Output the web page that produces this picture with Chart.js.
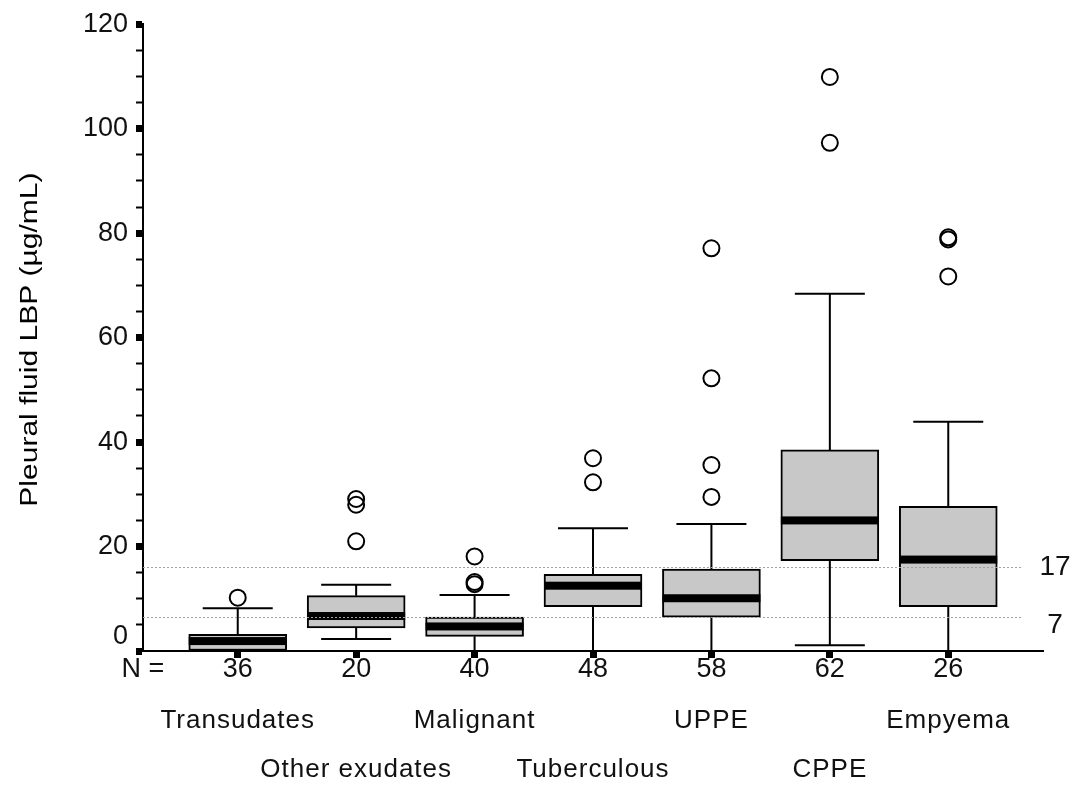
<!DOCTYPE html>
<html>
<head>
<meta charset="utf-8">
<script src="https://cdn.jsdelivr.net/npm/chart.js@4.4.1/dist/chart.umd.min.js"></script>
<style>
    html, body { margin: 0; padding: 0; background: #fff; }
</style>
</head>
<body>
<canvas id="myChart" width="1079" height="790"></canvas>
<script>
// groups and sample sizes
const categories = ['Transudates', 'Other exudates', 'Malignant', 'Tuberculous', 'UPPE', 'CPPE', 'Empyema'];
const nValues = [36, 20, 40, 48, 58, 62, 26];

// box plot values (µg/mL)
const whiskerLow = [0, 2.3, 0, 0, 0, 1.1, 0];
const q1 = [0, 4.4, 2.8, 8.5, 6.5, 17.3, 8.5];
const median = [1.9, 6.7, 4.7, 12.5, 10.1, 25.0, 17.5];
const q3 = [3.2, 10.6, 6.5, 14.7, 15.7, 38.5, 27.7];
const whiskerHigh = [8.2, 12.7, 10.7, 23.5, 24.3, 68.4, 43.9];
const outliers = [
    [10.2],
    [29.1, 28.0, 21.0],
    [18.1, 13.2, 12.8],
    [36.9, 32.3],
    [77.1, 52.2, 35.6, 29.5],
    [109.9, 97.3],
    [79.2, 78.8, 71.7]
];

// dotted cut-off lines
const cutoffValues = [16.1, 6.5];
const cutoffLabels = ['17', '7'];

const yTickLabels = [20, 40, 60, 80, 100, 120];
const yTitle = 'Pleural fluid LBP (µg/mL)';

const FONT = "'Liberation Sans', Arial, sans-serif";

const boxData = categories.map((c, i) => ({ x: i + 1, y: [q1[i], q3[i]] }));
const outlierData = [];
outliers.forEach((list, i) => list.forEach(v => outlierData.push({ x: i + 1, y: v })));

const boxParts = {
    id: 'boxParts',
    beforeDatasetsDraw(chart) {
        const ctx = chart.ctx;
        const xs = chart.scales.x, ys = chart.scales.y;
        ctx.save();
        ctx.strokeStyle = '#000';
        ctx.lineWidth = 2;
        categories.forEach((c, i) => {
            const x = xs.getPixelForValue(i + 1);
            const capHalf = 35;
            // upper whisker
            ctx.beginPath();
            ctx.moveTo(x, ys.getPixelForValue(q3[i]));
            ctx.lineTo(x, ys.getPixelForValue(whiskerHigh[i]));
            ctx.moveTo(x - capHalf, ys.getPixelForValue(whiskerHigh[i]));
            ctx.lineTo(x + capHalf, ys.getPixelForValue(whiskerHigh[i]));
            // lower whisker
            ctx.moveTo(x, ys.getPixelForValue(q1[i]));
            ctx.lineTo(x, ys.getPixelForValue(whiskerLow[i]));
            ctx.moveTo(x - capHalf, ys.getPixelForValue(whiskerLow[i]));
            ctx.lineTo(x + capHalf, ys.getPixelForValue(whiskerLow[i]));
            ctx.stroke();
        });
        ctx.restore();
    },
    afterDatasetsDraw(chart) {
        const ctx = chart.ctx;
        const ys = chart.scales.y;
        const meta = chart.getDatasetMeta(0);
        ctx.save();
        // medians
        ctx.fillStyle = '#000';
        meta.data.forEach((bar, i) => {
            const y = ys.getPixelForValue(median[i]);
            ctx.fillRect(bar.x - bar.width / 2, y - 4, bar.width, 8);
        });
        // cut-off lines
        ctx.strokeStyle = '#a0a0a0';
        ctx.lineWidth = 1;
        ctx.setLineDash([2, 2]);
        cutoffValues.forEach(v => {
            const y = Math.round(ys.getPixelForValue(v)) + 0.5;
            ctx.beginPath();
            ctx.moveTo(chart.chartArea.left, y);
            ctx.lineTo(chart.chartArea.right - 20, y);
            ctx.stroke();
        });
        ctx.restore();
    },
    afterDraw(chart) {
        const ctx = chart.ctx;
        const xs = chart.scales.x, ys = chart.scales.y;
        ctx.save();
        ctx.fillStyle = '#111';
        ctx.textBaseline = 'middle';
        // "0" label sits a bit above the axis
        ctx.textAlign = 'right';
        ctx.font = '27px ' + FONT;
        ctx.fillText('0', xs.left - 15, ys.getPixelForValue(2.7));
        // cut-off labels
        ctx.textAlign = 'center';
        ctx.font = '28px ' + FONT;
        ctx.fillText(cutoffLabels[0], chart.chartArea.right + 12, ys.getPixelForValue(cutoffValues[0]));
        ctx.fillText(cutoffLabels[1], chart.chartArea.right + 12, ys.getPixelForValue(cutoffValues[1]) + 8);
        // group names, staggered on two rows
        ctx.font = '26px ' + FONT;
        ctx.letterSpacing = '1px';
        categories.forEach((c, i) => {
            const x = xs.getPixelForValue(i + 1);
            const y = i % 2 === 0 ? 721 : 770;
            ctx.fillText(c, x, y);
        });
        ctx.letterSpacing = '0px';
        // y title, a little narrow like the original
        ctx.translate(30, (chart.chartArea.top + chart.chartArea.bottom) / 2 + 2);
        ctx.rotate(-Math.PI / 2);
        ctx.scale(1, 0.8);
        ctx.fillStyle = '#000';
        ctx.font = '30px ' + FONT;
        ctx.fillText(yTitle, 0, 0);
        ctx.restore();
    }
};

const ctx = document.getElementById('myChart').getContext('2d');
const lbpChart = new Chart(ctx, {
    type: 'bar',
    data: {
        datasets: [{
            data: boxData,
            backgroundColor: '#c8c8c8',
            borderColor: '#000',
            borderWidth: 2,
            borderSkipped: false,
            barThickness: 98
        }, {
            type: 'line',
            data: outlierData,
            showLine: false,
            pointStyle: 'circle',
            pointRadius: 8,
            pointHoverRadius: 8,
            pointBorderWidth: 2,
            pointBorderColor: '#000',
            pointBackgroundColor: 'rgba(255,255,255,0)'
        }]
    },
    options: {
        responsive: false,
        animation: false,
        layout: { padding: { left: 0, top: 24, right: 36, bottom: 0 } },
        plugins: {
            legend: { display: false },
            tooltip: { enabled: false }
        },
        scales: {
            x: {
                type: 'linear',
                min: 0.2,
                max: 7.8,
                offset: false,
                afterBuildTicks(scale) {
                    scale.ticks = [0.2, 1, 2, 3, 4, 5, 6, 7].map(v => ({ value: v }));
                },
                afterFit(scale) { scale.height = 139; },
                border: { display: true, color: '#000', width: 2 },
                grid: {
                    offset: false,
                    drawOnChartArea: false,
                    drawTicks: true,
                    tickLength: 7,
                    tickWidth: 7,
                    tickColor: c => c.index === 0 ? 'rgba(0,0,0,0)' : '#000'
                },
                ticks: {
                    autoSkip: false,
                    maxRotation: 0,
                    padding: -5,
                    color: '#111',
                    font: { family: FONT, size: 27 },
                    callback: (value, index) => index === 0 ? 'N =' : String(nValues[index - 1])
                }
            },
            y: {
                min: 0,
                max: 120,
                afterFit(scale) { scale.width = 143; },
                border: { display: true, color: '#000', width: 2 },
                grid: {
                    drawOnChartArea: false,
                    drawTicks: true,
                    tickLength: 7,
                    tickWidth: c => c.tick.value % 20 === 0 ? 7 : 2,
                    tickColor: '#000'
                },
                ticks: {
                    stepSize: 5,
                    autoSkip: false,
                    padding: 8,
                    color: '#111',
                    font: { family: FONT, size: 27 },
                    callback: v => yTickLabels.includes(v) ? String(v) : ''
                }
            }
        }
    },
    plugins: [boxParts]
});
</script>
</body>
</html>
